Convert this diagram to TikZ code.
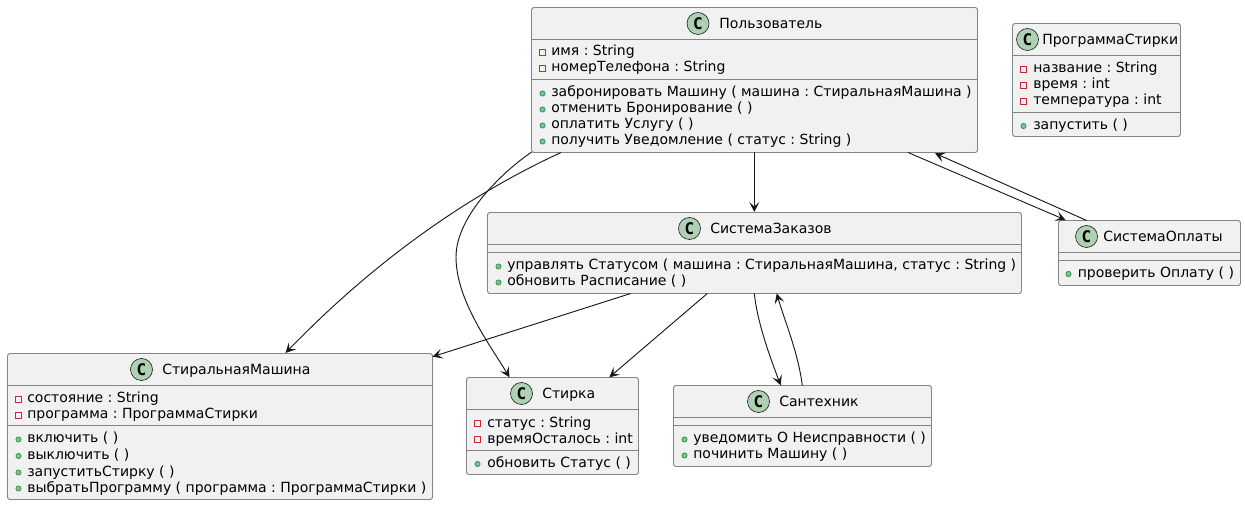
\documentclass[tikz,border=0pt]{standalone}
\usepackage{fontspec}
\setmainfont{DejaVu Sans}
\newfontfamily\monob[BoldFont={DejaVu Sans Mono Bold}]{DejaVu Sans Mono}
\usetikzlibrary{arrows.meta}
\definecolor{boxfill}{HTML}{F1F1F1}
\definecolor{boxline}{HTML}{848484}
\definecolor{circfill}{HTML}{ADD1B2}
\definecolor{privc}{HTML}{C82930}
\definecolor{pubc}{HTML}{84BE84}
\definecolor{publ}{HTML}{038048}
\definecolor{ink}{HTML}{181818}
\tikzset{x=0.75pt,y=-0.75pt,
  classbox/.style={draw=boxline,fill=boxfill,rounded corners=1.9pt,line width=0.7pt},
  sepline/.style={draw=boxline,line width=0.7pt},
  txt/.style={inner sep=0pt,anchor=base west,text=black,font=\fontsize{10.5pt}{12pt}\selectfont},
  ttl/.style={inner sep=0pt,anchor=base west,text=black,font=\fontsize{10.5pt}{12pt}\selectfont},
  conn/.style={draw=ink,line width=0.7pt,-{Stealth[length=7.5pt,width=7.5pt,inset=3.4pt,fill=ink]}},
  circ/.style={circle,draw=ink,fill=circfill,line width=0.45pt,minimum size=16.5pt,inner sep=0pt,font=\fontsize{12pt}{12pt}\monob\bfseries,text=black}}
\newcommand{\priv}[2]{\draw[draw=privc,line width=0.5pt,fill=none] (#1-3,#2-7) rectangle ++(6,6);}
\newcommand{\publ}[2]{\draw[draw=publ,fill=pubc,line width=0.4pt] (#1,#2-3.5) circle (2pt);}
% \umlbox{name}{x1}{y1}{x2}{y2}{yhead}{ysep}
\newcommand{\umlbox}[7]{%
  \path[classbox] (#2,#3) rectangle (#4,#5);
  \draw[sepline] (#2,#6) -- (#4,#6);
  \draw[sepline] (#2,#7) -- (#4,#7);}
\begin{document}
\frenchspacing
\begin{tikzpicture}
\useasboundingbox (0,0) rectangle (1245,505);
% ---------- classes
\umlbox{user}{531.5}{7.5}{977.5}{152.5}{39.5}{79.5}
\node[circ] (userC) at (698,23.5) {C};
\node[ttl] (userT) at (719,28.5) {Пользователь};
\priv{542.5}{56}\node[txt] (u1) at (551,56) {имя : String};
\priv{542.5}{72}\node[txt] (u2) at (551,72) {номерТелефона : String};
\publ{542.5}{97}\node[txt] (u3) at (551,97) {забронировать Машину ( машина : СтиральнаяМашина )};
\publ{542.5}{113}\node[txt] (u4) at (551,113) {отменить Бронирование ( )};
\publ{542.5}{129}\node[txt] (u5) at (551,129) {оплатить Услугу ( )};
\publ{542.5}{145}\node[txt] (u6) at (551,145) {получить Уведомление ( статус : String )};

\umlbox{prog}{1012.5}{23.5}{1180.5}{136.5}{55.5}{112.5}
\node[circ] (progC) at (1027.5,39.5) {C};
\node[ttl] (progT) at (1042,44.5) {ПрограммаСтирки};
\priv{1023.5}{73}\node[txt] (p1) at (1033,73) {название : String};
\priv{1023.5}{89}\node[txt] (p2) at (1033,89) {время : int};
\priv{1023.5}{105}\node[txt] (p3) at (1033,105) {температура : int};
\publ{1023.5}{129.5}\node[txt] (p4) at (1033,129.5) {запустить ( )};

\umlbox{ord}{487.5}{212.5}{1021.5}{293.5}{244.5}{252.5}
\node[circ] (ordC) at (689.5,228.5) {C};
\node[ttl] (ordT) at (710,233.5) {СистемаЗаказов};
\publ{498.5}{270}\node[txt] (o1) at (507,270) {управлять Статусом ( машина : СтиральнаяМашина, статус : String )};
\publ{498.5}{286}\node[txt] (o2) at (507,286) {обновить Расписание ( )};

\umlbox{pay}{1058.5}{220.5}{1240.5}{285.5}{252.5}{260.5}
\node[circ] (payC) at (1086.5,236.5) {C};
\node[ttl] (payT) at (1103,241.5) {СистемаОплаты};
\publ{1068.5}{277.5}\node[txt] (a1) at (1077.5,277.5) {проверить Оплату ( )};

\umlbox{wash}{7.5}{353.5}{432.5}{499.5}{385.5}{425.5}
\node[circ] (washC) at (141.5,369.5) {C};
\node[ttl] (washT) at (162,374.5) {СтиральнаяМашина};
\priv{18.5}{403}\node[txt] (w1) at (27,403) {состояние : String};
\priv{18.5}{419}\node[txt] (w2) at (27,419) {программа : ПрограммаСтирки};
\publ{18.5}{443}\node[txt] (w3) at (27,443) {включить ( )};
\publ{18.5}{459.5}\node[txt] (w4) at (27,459.5) {выключить ( )};
\publ{18.5}{476}\node[txt] (w5) at (27,476) {запуститьСтирку ( )};
\publ{18.5}{492}\node[txt] (w6) at (27,492) {выбратьПрограмму ( программа : ПрограммаСтирки )};

\umlbox{st}{466.5}{377.5}{638.5}{474.5}{409.5}{450.5}
\node[circ] (stC) at (521.5,393.5) {C};
\node[ttl] (stT) at (542,398.5) {Стирка};
\priv{477.5}{427.5}\node[txt] (s1) at (487,427.5) {статус : String};
\priv{477.5}{443.5}\node[txt] (s2) at (487,443.5) {времяОсталось : int};
\publ{477.5}{467.5}\node[txt] (s3) at (487,467.5) {обновить Статус ( )};

\umlbox{pl}{673.5}{385.5}{931.5}{466.5}{417.5}{425.5}
\node[circ] (plC) at (758.5,401.5) {C};
\node[ttl] (plT) at (779,406.5) {Сантехник};
\publ{684.5}{443}\node[txt] (l1) at (693,443) {уведомить О Неисправности ( )};
\publ{684.5}{459}\node[txt] (l2) at (693,459) {починить Машину ( )};
% ---------- connector end points on the box borders
\coordinate (uA) at (561,152.5);
\coordinate (uB) at (531.7,152);
\coordinate (uC) at (754.3,152.5);
\coordinate (uD) at (908,152.5);
\coordinate (uE) at (935,153.3);
\coordinate (oC) at (754.3,212);
\coordinate (payA) at (1065.5,220);
\coordinate (payB) at (1086.7,220.5);
\coordinate (wA) at (285.5,353);
\coordinate (wB) at (432.5,356.7);
\coordinate (oW) at (630.7,293.5);
\coordinate (oS) at (707.3,293.5);
\coordinate (stA) at (609.3,377.3);
\coordinate (stB) at (509.5,377.3);
\coordinate (oP) at (754.3,293.5);
\coordinate (oQ) at (776.7,293.5);
\coordinate (plA) at (780.7,385.3);
\coordinate (plB) at (802.3,385.5);
% ---------- connectors
\draw[conn] (uC) -- (oC);
\draw[conn] (uD) -- (payA);
\draw[conn] (payB) -- (uE);
\draw[conn] (uA) .. controls (495,183) and (395,240) .. (wA);
\draw[conn] (uB) .. controls (505,170) and (456,215) .. (456,257) .. controls (456,300) and (490,345) .. (stB);
\draw[conn] (oW) -- (wB);
\draw[conn] (oS) -- (stA);
\draw[conn] (oP) .. controls (757,320) and (768,352) .. (plA);
\draw[conn] (plB) .. controls (798,352) and (785,322) .. (oQ);
\end{tikzpicture}
\end{document}
